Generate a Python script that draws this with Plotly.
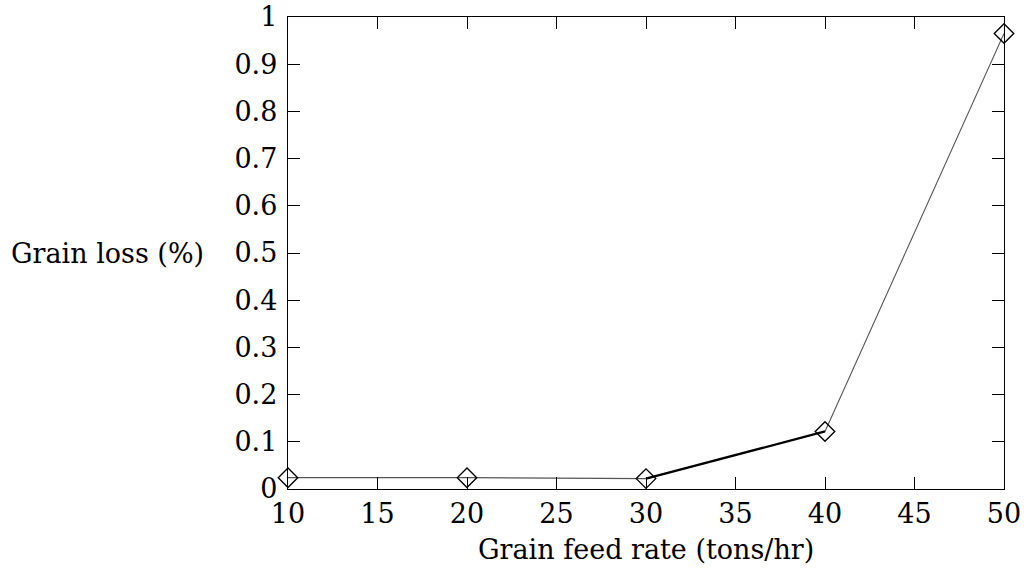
import plotly.graph_objects as go

feed_rate = [10, 20, 30, 40, 50]
grain_loss = [0.024, 0.024, 0.022, 0.122, 0.965]
# segment emphasised with a heavier stroke (from index 2 to index 3)
heavy_x = feed_rate[2:4]
heavy_y = grain_loss[2:4]

x_ticks = [10, 15, 20, 25, 30, 35, 40, 45, 50]
y_ticks = [0, 0.1, 0.2, 0.3, 0.4, 0.5, 0.6, 0.7, 0.8, 0.9, 1]
y_tick_text = ["0", "0.1", "0.2", "0.3", "0.4", "0.5", "0.6", "0.7", "0.8", "0.9", "1"]

FONT = "DejaVu Serif"
FS = 27

fig = go.Figure()
fig.add_trace(go.Scatter(
    x=feed_rate, y=grain_loss, mode="lines",
    line=dict(color="#555555", width=1.1),
    showlegend=False, hoverinfo="skip"))
fig.add_trace(go.Scatter(
    x=heavy_x, y=heavy_y, mode="lines",
    line=dict(color="black", width=2.2),
    showlegend=False, hoverinfo="skip"))
fig.add_trace(go.Scatter(
    x=feed_rate, y=grain_loss, mode="markers",
    marker=dict(symbol="diamond-open", size=15, color="black",
                line=dict(width=1.4, color="black")),
    showlegend=False, cliponaxis=False))

axis_common = dict(
    showgrid=False, zeroline=False, showline=True, linecolor="black",
    linewidth=1.4, mirror="ticks", ticks="inside", ticklen=12,
    tickwidth=1.1, tickcolor="black", ticklabeloverflow="allow",
    automargin=False,
    tickfont=dict(family=FONT, size=FS, color="black"),
)

fig.update_layout(
    width=1029, height=571,
    margin=dict(l=288, r=25, t=17, b=82),
    paper_bgcolor="white", plot_bgcolor="white",
    font=dict(family=FONT, size=FS, color="black"),
    xaxis=dict(range=[10, 50], tickvals=x_ticks, **axis_common),
    yaxis=dict(range=[0, 1], tickvals=y_ticks, ticktext=y_tick_text,
               ticklabelstandoff=4, **axis_common),
    annotations=[
        dict(text="Grain feed rate (tons/hr)", xref="paper", yref="paper",
             x=0.5, y=0, xanchor="center", yanchor="middle", yshift=-60,
             showarrow=False, font=dict(family=FONT, size=FS, color="black")),
        dict(text="Grain loss (%)", xref="paper", yref="paper",
             x=0, y=0.5, xanchor="center", yanchor="middle", xshift=-181,
             showarrow=False, font=dict(family=FONT, size=FS, color="black")),
    ],
)

fig.write_html("out.html")
